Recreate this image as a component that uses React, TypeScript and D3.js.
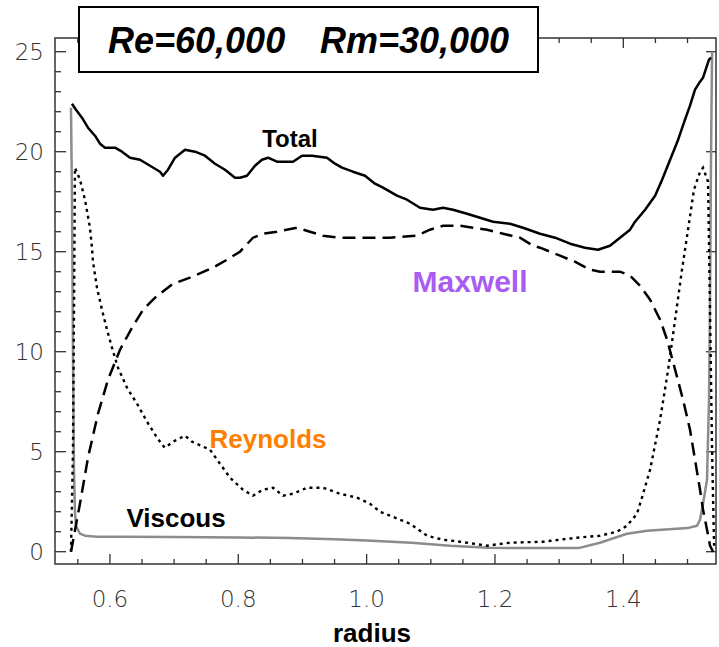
import React from "react";
import * as d3 from "d3";

// ---- data (radius, value) ----
const totalR = [0.5408, 0.5471, 0.5564, 0.5658, 0.5767, 0.5845, 0.5923, 0.6079, 0.6188, 0.6313, 0.6469, 0.6625, 0.678, 0.6827, 0.6905, 0.7014, 0.717, 0.7326, 0.7481, 0.7637, 0.7793, 0.7949, 0.8026, 0.8136, 0.826, 0.8369, 0.8463, 0.8603, 0.8853, 0.8993, 0.9149, 0.9382, 0.9507, 0.9616, 0.9787, 0.9975, 1.013, 1.0255, 1.0473, 1.0629, 1.0832, 1.1034, 1.119, 1.1346, 1.1564, 1.1767, 1.197, 1.2234, 1.2437, 1.2702, 1.2936, 1.317, 1.3402, 1.3605, 1.3792, 1.3948, 1.4105, 1.4183, 1.4339, 1.4495, 1.4604, 1.4729, 1.4854, 1.4961, 1.5039, 1.5117, 1.5195, 1.5242, 1.5304, 1.5335, 1.5367];
const totalV = [22.4, 22.1, 21.7, 21.2, 20.8, 20.4, 20.2, 20.2, 20.0, 19.7, 19.6, 19.3, 19.0, 18.8, 19.1, 19.7, 20.1, 20.0, 19.8, 19.4, 19.1, 18.7, 18.7, 18.8, 19.3, 19.6, 19.7, 19.5, 19.5, 19.8, 19.8, 19.7, 19.4, 19.2, 19.0, 18.8, 18.4, 18.2, 17.8, 17.6, 17.2, 17.1, 17.2, 17.1, 16.9, 16.7, 16.5, 16.4, 16.2, 15.9, 15.7, 15.4, 15.2, 15.1, 15.3, 15.7, 16.1, 16.5, 17.1, 17.8, 18.6, 19.6, 20.6, 21.6, 22.3, 23.1, 23.5, 23.7, 24.3, 24.6, 24.7];

const maxwellR = [0.5393, 0.5533, 0.5658, 0.5814, 0.597, 0.6157, 0.6344, 0.6516, 0.6703, 0.6983, 0.7247, 0.7606, 0.7824, 0.8026, 0.8229, 0.8385, 0.8603, 0.8915, 0.9117, 0.932, 0.9585, 1.0006, 1.0364, 1.0785, 1.0987, 1.119, 1.1455, 1.1658, 1.1876, 1.2125, 1.239, 1.2593, 1.2702, 1.3014, 1.3246, 1.348, 1.3636, 1.3948, 1.4105, 1.4261, 1.4417, 1.4573, 1.4682, 1.4807, 1.493, 1.5039, 1.5117, 1.5195, 1.5242, 1.5304, 1.5351, 1.5398];
const maxwellV = [0.0, 2.4, 4.7, 6.9, 8.6, 10.1, 11.2, 12.1, 12.7, 13.4, 13.7, 14.2, 14.6, 15.0, 15.7, 15.9, 16.0, 16.2, 16.0, 15.8, 15.7, 15.7, 15.7, 15.8, 16.1, 16.3, 16.3, 16.2, 16.1, 15.9, 15.7, 15.3, 15.2, 14.8, 14.5, 14.1, 14.0, 14.0, 13.8, 13.3, 12.6, 11.6, 10.6, 9.1, 7.6, 6.1, 4.6, 3.1, 2.1, 1.1, 0.3, 0.0];

const reynoldsR = [0.5393, 0.5424, 0.544, 0.5455, 0.5533, 0.5611, 0.5689, 0.572, 0.5736, 0.5798, 0.5876, 0.5954, 0.6032, 0.6126, 0.6266, 0.6422, 0.6578, 0.6734, 0.6827, 0.6858, 0.6983, 0.717, 0.7279, 0.7559, 0.7715, 0.7871, 0.8073, 0.8229, 0.8385, 0.8541, 0.8697, 0.8853, 0.9071, 0.932, 0.9585, 0.985, 1.0052, 1.0208, 1.0364, 1.0676, 1.0941, 1.119, 1.1455, 1.1876, 1.2234, 1.2749, 1.3277, 1.3636, 1.3901, 1.4057, 1.4214, 1.4308, 1.4417, 1.4573, 1.4698, 1.4807, 1.4914, 1.5008, 1.5101, 1.5195, 1.5242, 1.532, 1.5351, 1.5383, 1.5414];
const reynoldsV = [0.0, 5.0, 12.0, 19.2, 18.6, 17.6, 16.2, 15.2, 14.5, 13.2, 12.1, 11.1, 10.2, 9.2, 8.2, 7.4, 6.5, 5.7, 5.3, 5.2, 5.5, 5.8, 5.5, 5.1, 4.4, 3.7, 3.1, 2.8, 3.1, 3.2, 2.8, 2.9, 3.2, 3.2, 2.9, 2.7, 2.4, 2.0, 1.8, 1.4, 0.8, 0.6, 0.5, 0.3, 0.45, 0.5, 0.7, 0.8, 1.0, 1.3, 1.9, 2.9, 4.1, 6.6, 9.1, 11.6, 14.1, 16.1, 18.1, 19.0, 19.2, 18.5, 12.0, 5.0, 0.3];

const viscousR = [0.5393, 0.5408, 0.5424, 0.544, 0.5455, 0.5471, 0.5533, 0.5611, 0.58, 0.62, 0.7, 0.8, 0.88, 0.95, 1.0, 1.07, 1.13, 1.19, 1.25, 1.33, 1.3636, 1.4057, 1.437, 1.5, 1.5148, 1.5195, 1.5242, 1.5304, 1.5335, 1.5351, 1.5367, 1.5383];
const viscousV = [22.2, 18.0, 10.0, 4.0, 2.0, 1.3, 0.9, 0.8, 0.75, 0.75, 0.73, 0.71, 0.69, 0.62, 0.56, 0.45, 0.3, 0.2, 0.18, 0.18, 0.45, 0.9, 1.05, 1.18, 1.3, 1.6, 2.4, 3.6, 7.6, 12.6, 20.0, 25.0];

const xMajor = [0.6, 0.8, 1.0, 1.2, 1.4];
const xMajorLabels = ["0.6", "0.8", "1.0", "1.2", "1.4"];
const xMinor = [0.55, 0.6, 0.65, 0.7, 0.75, 0.8, 0.85, 0.9, 0.95, 1.0, 1.05, 1.1, 1.15, 1.2, 1.25, 1.3, 1.35, 1.4, 1.45, 1.5];
const yMajor = [0, 5, 10, 15, 20, 25];
const yMajorLabels = ["0", "5", "10", "15", "20", "25"];
const yMinor = d3.range(0, 26, 1);

const titleLeft = "Re=60,000";
const titleRight = "Rm=30,000";

export default function App() {
  const W = 719, H = 647;
  const L = 55, R = 716, T = 38, B = 564;
  const x = d3.scaleLinear().domain([0.5144, 1.5444]).range([L, R]);
  const y = d3.scaleLinear().domain([-0.615, 25.685]).range([B, T]);

  const mk = (rs: number[], vs: number[]) =>
    d3.line<number>().x((_, i) => x(rs[i])).y((_, i) => y(vs[i]))(rs) || "";

  const axisColor = "#333";
  const tickFont = "'DejaVu Sans', sans-serif";
  const labelFont = "'Liberation Sans', Arial, sans-serif";

  return (
    <svg width={W} height={H} style={{ position: "absolute", left: 0, top: 0, background: "#fff" }}>
      <rect x={0} y={0} width={W} height={H} fill="#fff" />
      {/* frame */}
      <rect x={L} y={T} width={R - L} height={B - T} fill="none" stroke={axisColor} strokeWidth={1.5} />
      {/* bottom & top ticks */}
      {xMinor.map((v, i) => {
        const major = xMajor.some((m) => Math.abs(m - v) < 1e-6);
        const len = major ? 10 : 5;
        return (
          <g key={"xt" + i}>
            <line x1={x(v)} x2={x(v)} y1={B} y2={B - len} stroke={axisColor} strokeWidth={1.3} />
            <line x1={x(v)} x2={x(v)} y1={T} y2={T + len} stroke={axisColor} strokeWidth={1.3} />
          </g>
        );
      })}
      {/* left ticks */}
      {yMinor.map((v, i) => {
        const major = v % 5 === 0;
        const len = major ? 11 : 6;
        return <line key={"yt" + i} x1={L} x2={L + len} y1={y(v)} y2={y(v)} stroke={axisColor} strokeWidth={1.3} />;
      })}
      {/* right ticks */}
      {yMajor.map((v, i) => (
        <line key={"yr" + i} x1={R} x2={R - 10} y1={y(v)} y2={y(v)} stroke={axisColor} strokeWidth={1.3} />
      ))}
      {/* tick labels */}
      {xMajor.map((v, i) => (
        <text key={"xl" + i} x={x(v)} y={607} textAnchor="middle" fontFamily={tickFont} fontWeight={200} fontSize={23} fill="#333">
          {xMajorLabels[i]}
        </text>
      ))}
      {yMajor.map((v, i) => (
        <text key={"yl" + i} x={44} y={y(v) + 8.5} textAnchor="end" fontFamily={tickFont} fontWeight={200} fontSize={23} fill="#333">
          {yMajorLabels[i]}
        </text>
      ))}
      <text x={372} y={642} textAnchor="middle" fontFamily={labelFont} fontWeight="bold" fontSize={26} fill="#000">
        radius
      </text>

      {/* curves */}
      <path d={mk(viscousR, viscousV)} fill="none" stroke="#8c8c8c" strokeWidth={2.5} strokeLinejoin="round" />
      <path d={mk(reynoldsR, reynoldsV)} fill="none" stroke="#000" strokeWidth={2.4} strokeDasharray="3,4" />
      <path d={mk(maxwellR, maxwellV)} fill="none" stroke="#000" strokeWidth={2.5} strokeDasharray="13,7" />
      <path d={mk(totalR, totalV)} fill="none" stroke="#000" strokeWidth={2.5} strokeLinejoin="round" />

      {/* curve labels */}
      <text x={290} y={147} textAnchor="middle" fontFamily={labelFont} fontWeight="bold" fontSize={24} fill="#000">Total</text>
      <text x={470} y={292} textAnchor="middle" fontFamily={labelFont} fontWeight="bold" fontSize={30} fill="#a95cf2">Maxwell</text>
      <text x={268} y={448} textAnchor="middle" fontFamily={labelFont} fontWeight="bold" fontSize={26} fill="#ff7f00">Reynolds</text>
      <text x={176} y={527} textAnchor="middle" fontFamily={labelFont} fontWeight="bold" fontSize={26} fill="#000">Viscous</text>

      {/* title box */}
      <rect x={79} y={7} width={459} height={65} fill="#fff" stroke="#000" strokeWidth={2} />
      <text x={108} y={53} fontFamily={labelFont} fontWeight="bold" fontStyle="italic" fontSize={36} fill="#000">{titleLeft}</text>
      <text x={320} y={53} fontFamily={labelFont} fontWeight="bold" fontStyle="italic" fontSize={36} fill="#000">{titleRight}</text>
    </svg>
  );
}
